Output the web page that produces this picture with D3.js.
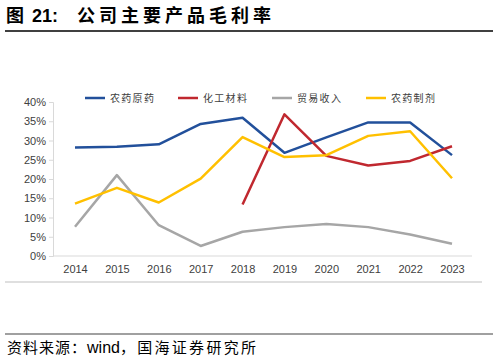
<!DOCTYPE html>
<html><head><meta charset="utf-8">
<script src="https://cdn.jsdelivr.net/npm/d3@7"></script>
<style>body{margin:0;background:#fff}svg{display:block}</style>
</head><body>
<script>
const years = ["2014","2015","2016","2017","2018","2019","2020","2021","2022","2023"];
const seriesNames = ["农药原药","化工材料","贸易收入","农药制剂"];
const yuanyao = [28.2,28.4,29.0,34.3,35.9,26.8,30.8,34.7,34.7,26.2];
const huagong = [null,null,null,null,13.4,36.8,26.0,23.5,24.7,28.5];
const maoyi = [7.6,21.0,8.0,2.6,6.3,7.5,8.3,7.5,5.6,3.2];
const zhiji = [13.6,17.7,13.9,20.1,30.9,25.7,26.2,31.2,32.4,20.2];
const yTicks = [0,5,10,15,20,25,30,35,40];
const colors = ["#22509b","#c0282f","#a6a6a6","#ffc000"];
const allSeries = [yuanyao, huagong, maoyi, zhiji];

const W=498,H=362;
const svg=d3.select("body").append("svg").attr("width",W).attr("height",H);

// title
svg.append("text").attr("x",6).attr("y",22).attr("font-family","Noto Sans CJK SC").attr("font-weight","bold").attr("font-size",18).attr("fill","#000").text("图");
svg.append("text").attr("x",32).attr("y",22).attr("font-family","Liberation Sans, Arial").attr("font-weight","bold").attr("font-size",18).attr("fill","#000").text("21:");
svg.append("text").attr("x",77).attr("y",22).attr("font-family","Noto Sans CJK SC").attr("font-weight","bold").attr("font-size",18).attr("letter-spacing",4).attr("fill","#000").text("公司主要产品毛利率");
svg.append("line").attr("x1",5).attr("x2",493).attr("y1",31).attr("y2",31).attr("stroke","#000").attr("stroke-width",1.5);

const x=d3.scalePoint().domain(years).range([75,452]);
const y=d3.scaleLinear().domain([0,40]).range([256,102]);

// y axis
const ya=svg.append("g").attr("transform","translate(53,0)")
  .call(d3.axisLeft(y).tickValues(yTicks).tickSize(4).tickPadding(3).tickFormat(d=>d+"%"));
ya.select(".domain").attr("stroke","#d9d9d9");
ya.selectAll(".tick line").attr("stroke","#d9d9d9");
ya.selectAll("text").attr("font-family","Liberation Sans, Arial").attr("font-size",11).attr("fill","#404040");

// x axis
const xa=svg.append("g").attr("transform","translate(0,256)")
  .call(d3.axisBottom(x).tickSize(0).tickPadding(9));
xa.select(".domain").remove();
xa.selectAll("text").attr("font-family","Liberation Sans, Arial").attr("font-size",11).attr("fill","#404040");
svg.append("line").attr("x1",53).attr("x2",472).attr("y1",256).attr("y2",256).attr("stroke","#d9d9d9").attr("stroke-width",1);

svg.append("line").attr("x1",5).attr("x2",482).attr("y1",282).attr("y2",282).attr("stroke","#bfbfbf").attr("stroke-width",1);

const line=d3.line().defined(d=>d[1]!=null).x(d=>x(d[0])).y(d=>y(d[1]));
allSeries.forEach((s,i)=>{
  svg.append("path").datum(years.map((yr,j)=>[yr,s[j]]))
    .attr("d",line).attr("fill","none").attr("stroke",colors[i]).attr("stroke-width",2.5).attr("stroke-linejoin","round");
});

// legend
const legX=[85,178,272,366];
seriesNames.forEach((n,i)=>{
  svg.append("line").attr("x1",legX[i]).attr("x2",legX[i]+20).attr("y1",98).attr("y2",98).attr("stroke",colors[i]).attr("stroke-width",2.5);
  svg.append("text").attr("x",legX[i]+25).attr("y",102).attr("font-family","Noto Sans CJK SC").attr("font-size",10).attr("letter-spacing",1.3).attr("fill","#404040").text(n);
});

// footer
svg.append("line").attr("x1",5).attr("x2",493).attr("y1",334).attr("y2",334).attr("stroke","#808080").attr("stroke-width",1.5);
const ft=svg.append("text").attr("x",7).attr("y",353).attr("font-family","Noto Sans CJK SC").attr("font-size",15).attr("fill","#000");
ft.append("tspan").attr("letter-spacing",1).text("资料来源：");
ft.append("tspan").attr("font-family","Liberation Sans, Arial").attr("font-size",16).text("wind");
ft.append("tspan").attr("letter-spacing",2.3).text("，国海证券研究所");
</script>
</body></html>
